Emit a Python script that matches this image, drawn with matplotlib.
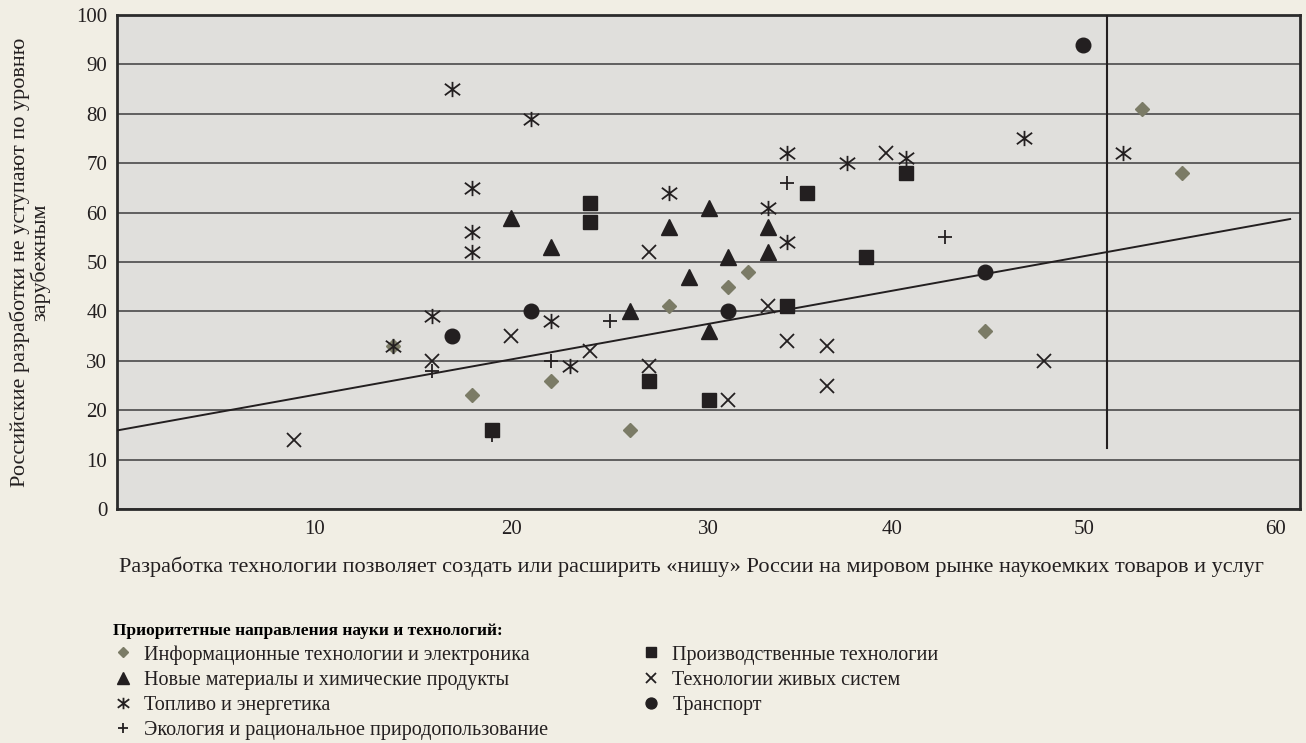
import matplotlib
matplotlib.use('Agg')
import matplotlib.pyplot as plt
from matplotlib.path import Path
from matplotlib.transforms import ScaledTranslation

# ---- data ----
info_x = [14, 18, 22, 26, 28, 31, 32, 44, 52, 54]
info_y = [33, 23, 26, 16, 41, 45, 48, 36, 81, 68]
mat_x = [20, 22, 26, 28, 29, 30, 30, 31, 33, 33]
mat_y = [59, 53, 40, 57, 47, 61, 36, 51, 57, 52]
fuel_x = [14, 16, 17, 18, 18, 18, 21, 22, 23, 28, 33, 34, 34, 37, 40, 46, 51]
fuel_y = [33, 39, 85, 65, 56, 52, 79, 38, 29, 64, 61, 72, 54, 70, 71, 75, 72]
eco_x = [16, 19, 22, 25, 34, 42]
eco_y = [28, 15, 30, 38, 66, 55]
prod_x = [19, 24, 24, 27, 30, 34, 35, 38, 40]
prod_y = [16, 62, 58, 26, 22, 41, 64, 51, 68]
live_x = [9, 16, 20, 24, 27, 27, 31, 33, 34, 36, 36, 39, 47]
live_y = [14, 30, 35, 32, 52, 29, 22, 41, 34, 33, 25, 72, 30]
trans_x = [17, 21, 31, 44, 49]
trans_y = [35, 40, 40, 48, 94]

trend_x = [0, 59.5]
trend_y = [15.9, 58.7]
threshold_x = [50.2, 50.2]
threshold_y = [12.3, 100]

x_ticks = [10, 20, 30, 40, 50, 60]
y_ticks = [0, 10, 20, 30, 40, 50, 60, 70, 80, 90, 100]

labels = [
    "Информационные технологии и электроника",
    "Новые материалы и химические продукты",
    "Топливо и энергетика",
    "Экология и рациональное природопользование",
    "Производственные технологии",
    "Технологии живых систем",
    "Транспорт",
]
legend_title = "Приоритетные направления науки и технологий:"
x_label = ("Разработка технологии позволяет создать или расширить «нишу» России "
           "на мировом рынке наукоемких товаров и услуг")
y_label = "Российские разработки не уступают по уровню\nзарубежным"

# ---- style ----
FONT = "Liberation Serif"
plt.rcParams['font.family'] = [FONT, 'DejaVu Serif']
BG = '#f1eee4'
AX_BG = '#e0dfdc'
INK = '#231f20'
GREY = '#7b7b66'

W, H = 1306, 743
fig = plt.figure(figsize=(W / 100, H / 100), dpi=100, facecolor=BG)
ax = fig.add_axes([117 / W, 1 - 509 / H, (1300 - 117) / W, (509 - 15) / H])
ax.set_facecolor(AX_BG)

ast_path = Path([(0, -1), (0, 1), (-1, -0.75), (1, 0.75), (-1, 0.75), (1, -0.75)],
                [Path.MOVETO, Path.LINETO] * 3)

ax.plot(trend_x, trend_y, color=INK, lw=1.4, zorder=3)
ax.plot(threshold_x, threshold_y, color=INK, lw=1.5, zorder=3)

h_info, = ax.plot(info_x, info_y, ls='none', marker='D', ms=7.2, color=GREY, mec=GREY, zorder=4)
h_mat, = ax.plot(mat_x, mat_y, ls='none', marker='^', ms=11, color=INK, zorder=5)
h_fuel, = ax.plot(fuel_x, fuel_y, ls='none', marker=ast_path, ms=11, mew=1.3,
                  color=INK, mfc='none', zorder=5)
h_eco, = ax.plot(eco_x, eco_y, ls='none', marker='+', ms=10, mew=1.3, color=INK, zorder=4)
h_prod, = ax.plot(prod_x, prod_y, ls='none', marker='s', ms=10.5, color=INK, zorder=5)
h_live, = ax.plot(live_x, live_y, ls='none', marker='x', ms=10.5, mew=1.3, color=INK, zorder=5)
h_trans, = ax.plot(trans_x, trans_y, ls='none', marker='o', ms=10.5, color=INK, zorder=5)

ax.set_xlim(0, 60)
ax.set_ylim(0, 100)
ax.set_xticks(x_ticks)
ax.set_yticks(y_ticks)
ax.tick_params(length=0, labelsize=15, colors=INK)
ax.tick_params(axis='y', pad=7)
ax.tick_params(axis='x', pad=8)
ax.yaxis.grid(True, color='#4a4a4a', lw=1.2)
ax.set_axisbelow(True)
for s in ax.spines.values():
    s.set_color('#2b2b2b')
    s.set_linewidth(2)

# the reference typesets the last x labels slightly to the left of their ticks
label_shift_px = {40: -14, 50: -19, 60: -24}
for tick_val, lab in zip(x_ticks, ax.get_xticklabels()):
    dx = label_shift_px.get(tick_val, 0)
    if dx:
        lab.set_transform(lab.get_transform() +
                          ScaledTranslation(dx / 100, 0, fig.dpi_scale_trans))

fig.text(119 / W, 1 - 567 / H, x_label, ha='left', va='center', fontsize=16, color=INK)
fig.text(30 / W, 1 - 262 / H, y_label, ha='center', va='center', rotation=90,
         fontsize=16, color=INK, multialignment='center', linespacing=1.0)

handles = [h_info, h_mat, h_fuel, h_eco, h_prod, h_live, h_trans]
leg = fig.legend(handles, labels, ncol=2, loc='upper left',
                 bbox_to_anchor=(113 / W, 1 - 623 / H), frameon=False,
                 title=legend_title, alignment='left',
                 title_fontproperties={'family': FONT, 'weight': 'bold', 'size': 12.5},
                 prop={'family': FONT, 'size': 14.5}, markerscale=0.75,
                 handlelength=1.0, handletextpad=0.55, labelspacing=0.30,
                 columnspacing=4.6, borderpad=0, borderaxespad=0)
for t in leg.get_texts():
    t.set_color(INK)

fig.savefig('out.png', dpi=100, facecolor=BG)
